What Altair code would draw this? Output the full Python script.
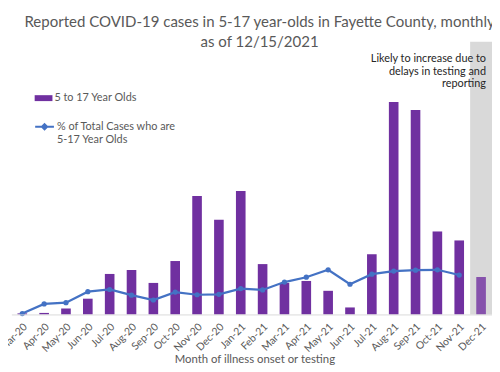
import altair as alt
import pandas as pd

months = ["Mar-20", "Apr-20", "May-20", "Jun-20", "Jul-20", "Aug-20", "Sep-20",
          "Oct-20", "Nov-20", "Dec-20", "Jan-21", "Feb-21", "Mar-21", "Apr-21",
          "May-21", "Jun-21", "Jul-21", "Aug-21", "Sep-21", "Oct-21", "Nov-21", "Dec-21"]
cases = [5, 7, 27, 72, 185, 203, 144, 244, 541, 433, 564, 230, 144, 153,
         108, 32, 275, 970, 934, 379, 338, 171]
pct_total = [0.2, 2.4, 2.7, 5.2, 5.7, 4.4, 3.3, 5.1, 4.5, 4.6, 5.9, 5.6, 7.4, 8.5,
             10.2, 6.9, 9.2, 9.9, 10.1, 10.2, 9.0, None]
bar_label = "5 to 17 Year Olds"
line_label = "% of Total Cases who are 5-17 Year Olds"
partial_month = "Dec-21"
note_lines = ["Likely to increase due to", "delays in testing and", "reporting"]
title_lines = ["Reported COVID-19 cases in 5-17 year-olds in Fayette County, monthly",
               "as of 12/15/2021"]
y_ticks = [0, 200, 400, 600, 800, 1000, 1200]
pct_ticks = [0, 10, 20, 30, 40, 50, 60]
y_max = 1245
pct_max = 62.25

FONT = "Lato"
GREY_TXT = "#595959"

df = pd.DataFrame({"month": months, "cases": cases, "pct": pct_total})
df["bar_series"] = bar_label
df["line_series"] = line_label
band_df = pd.DataFrame({"month": [partial_month], "lo": [0], "hi": [y_max]})
note_df = pd.DataFrame({"month": [partial_month], "y": [1195], "text": ["\n".join(note_lines)]})

x_enc = alt.X(
    "month:N", sort=months,
    scale=alt.Scale(paddingInner=0, paddingOuter=0),
    axis=alt.Axis(title="Month of illness onset or testing", labelAngle=-45, ticks=False,
                  domainColor="#d9d9d9", domainWidth=1, labelColor=GREY_TXT,
                  labelFont=FONT, labelFontSize=10.5, labelPadding=7,
                  titleFont=FONT, titleFontSize=11.5, titleColor=GREY_TXT,
                  titleFontWeight="normal", titleY=49, titleBaseline="alphabetic",
                  titleX=246),
)

y_left_scale = alt.Scale(domain=[0, y_max], nice=False, zero=True)
y_left_axis = alt.Axis(values=y_ticks, title=None, grid=False, domain=False, ticks=False,
                       labelColor=GREY_TXT, labelFont=FONT, labelFontSize=11, labelPadding=7)

band = alt.Chart(band_df).mark_rect(color="#d9d9d9").encode(
    x=x_enc,
    y=alt.Y("lo:Q", scale=y_left_scale, axis=y_left_axis),
    y2="hi:Q",
)

bars = alt.Chart(df).mark_bar(width=alt.RelativeBandSize(0.44)).encode(
    x=x_enc,
    y=alt.Y("cases:Q", scale=y_left_scale, axis=y_left_axis),
    fill=alt.Fill("bar_series:N", scale=alt.Scale(range=["#7030a0"]),
                  legend=alt.Legend(title=None, orient="none", legendX=23.6, legendY=48,
                                    symbolType="M-1,-0.333H1V0.333H-1Z", symbolSize=324,
                                    symbolStrokeWidth=0, padding=0, labelOffset=2,
                                    labelFont=FONT, labelFontSize=11, labelColor=GREY_TXT)),
    opacity=alt.condition(alt.datum.month == partial_month, alt.value(0.8), alt.value(1.0)),
)

note = alt.Chart(note_df).mark_text(align="right", baseline="top", lineBreak="\n",
                                     font=FONT, fontSize=11, lineHeight=13,
                                     color="#262626", dx=5).encode(
    x=x_enc,
    y=alt.Y("y:Q", scale=y_left_scale, axis=y_left_axis),
    text="text:N",
)

y_right_scale = alt.Scale(domain=[0, pct_max], nice=False, zero=True)
y_right_axis = alt.Axis(orient="right", values=pct_ticks, labelExpr="datum.value + '%'",
                        title=None, grid=False, domain=False, ticks=False,
                        labelColor=GREY_TXT, labelFont=FONT, labelFontSize=11)

line = alt.Chart(df).mark_line(strokeWidth=2.25).encode(
    x=x_enc,
    y=alt.Y("pct:Q", scale=y_right_scale, axis=y_right_axis),
    stroke=alt.Stroke("line_series:N", scale=alt.Scale(range=["#4472c4"]),
                      legend=alt.Legend(title=None, orient="none", legendX=23.1, legendY=75.5,
                                        symbolType="M-1,0H1M0,-0.28L0.28,0L0,0.28L-0.28,0Z",
                                        symbolSize=361, symbolStrokeWidth=2,
                                        symbolFillColor="#4472c4", padding=0, labelOffset=2,
                                        labelFont=FONT, labelFontSize=11, labelColor=GREY_TXT,
                                        labelBaseline="middle",
                                        labelExpr="datum.label == '" + line_label + "' ? ['% of Total Cases who are', '5-17 Year Olds'] : datum.label")),
)

points = alt.Chart(df).mark_point(filled=True, size=28, shape="circle", color="#4472c4",
                                  opacity=1).encode(
    x=x_enc,
    y=alt.Y("pct:Q", scale=y_right_scale, axis=y_right_axis),
)

left = alt.layer(band, bars, note)
right = alt.layer(line, points)

chart = alt.layer(left, right).resolve_scale(
    y="independent", fill="independent", stroke="independent"
).properties(
    width=486.6, height=276,
    padding={"left": 3.4, "top": 32, "right": 0, "bottom": 56},
    autosize=alt.AutoSizeParams(type="none"),
    title=alt.TitleParams(title_lines, font=FONT, fontSize=15.2, fontWeight="normal",
                          color=GREY_TXT, anchor="middle", dx=8, offset=0, dy=8,
                          lineHeight=20),
).configure_view(stroke=None)

chart.save("out.html", embed_options={"renderer": "svg", "actions": False})
